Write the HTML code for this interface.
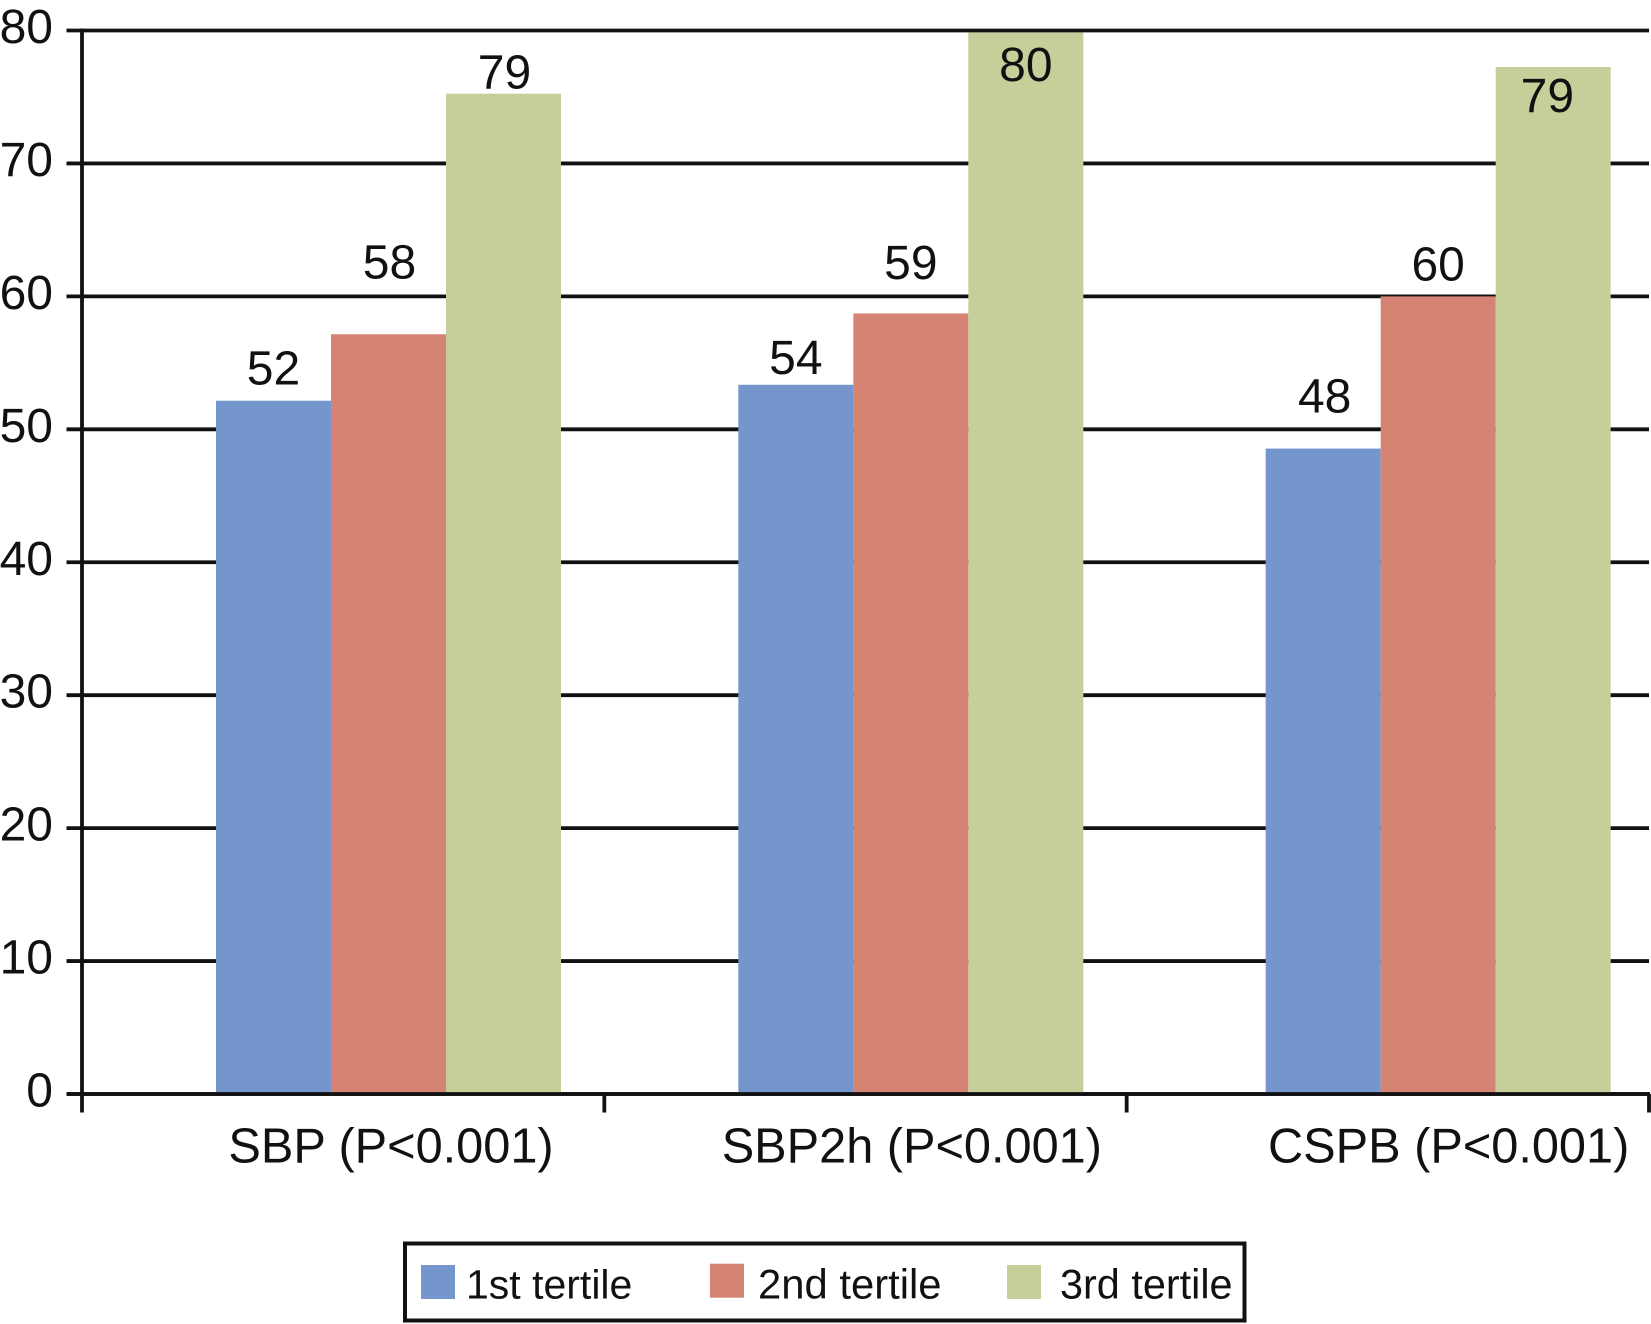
<!DOCTYPE html>
<html lang="en">
<head>
<meta charset="utf-8">
<title>Tertile bar chart</title>
<style>
  html, body { margin: 0; padding: 0; background: #fff; }
  body { width: 1651px; height: 1324px; overflow: hidden; }
  svg { display: block; font-family: "Liberation Sans", Arial, sans-serif; }
  text { fill: #111; }
</style>
</head>
<body>
<svg id="chart" xmlns="http://www.w3.org/2000/svg" width="1651" height="1324" viewBox="0 0 1651 1324"></svg>
<script>
const categories = ['SBP (P<0.001)', 'SBP2h (P<0.001)', 'CSPB (P<0.001)'];
const seriesNames = ['1st tertile', '2nd tertile', '3rd tertile'];
const tertile1Values = [52.15, 53.35, 48.55];
const tertile2Values = [57.15, 58.72, 60];
const tertile3Values = [75.25, 79.85, 77.25];
const tertile1Labels = ['52', '54', '48'];
const tertile2Labels = ['58', '59', '60'];
const tertile3Labels = ['79', '80', '79'];
const yTicks = [0, 10, 20, 30, 40, 50, 60, 70, 80];

const seriesValues = [tertile1Values, tertile2Values, tertile3Values];
const seriesLabels = [tertile1Labels, tertile2Labels, tertile3Labels];
const seriesColors = ['#7496cd', '#d58474', '#c4cf99'];

const NS = 'http://www.w3.org/2000/svg';
const svg = document.getElementById('chart');
const INK = '#111';
const LEFT = 82, RIGHT = 1649, BOTTOM = 1094, TOP = 30.5, Y_MAX = 80;
const BAND = (RIGHT - LEFT) / categories.length;
const BAR_W = 115;

function yScale(v) { return BOTTOM - (v / Y_MAX) * (BOTTOM - TOP); }
function bandStart(i) { return LEFT + i * BAND; }
function groupStart(i) { return bandStart(i) + 134 + (i === 2 ? 5 : 0); }
function barX(i, s) { return groupStart(i) + s * BAR_W; }

function addLine(x1, y1, x2, y2, w) {
  const el = document.createElementNS(NS, 'line');
  el.setAttribute('x1', x1);
  el.setAttribute('y1', y1);
  el.setAttribute('x2', x2);
  el.setAttribute('y2', y2);
  el.setAttribute('stroke', INK);
  el.setAttribute('stroke-width', w);
  svg.appendChild(el);
  return el;
}
function addText(str, x, y, size, anchor) {
  const el = document.createElementNS(NS, 'text');
  el.setAttribute('x', x);
  el.setAttribute('y', y);
  el.setAttribute('font-size', size);
  el.setAttribute('text-anchor', anchor);
  el.textContent = str;
  svg.appendChild(el);
  return el;
}
function addRect(x, y, w, h, fill) {
  const el = document.createElementNS(NS, 'rect');
  el.setAttribute('x', x);
  el.setAttribute('y', y);
  el.setAttribute('width', w);
  el.setAttribute('height', h);
  el.setAttribute('fill', fill);
  svg.appendChild(el);
  return el;
}

/* Gridlines and y tick labels */
yTicks.forEach(function (t) {
  const line = addLine(66.5, yScale(t), RIGHT, yScale(t), 3.8);
  
  
  const lab = addText(String(t), 53, yScale(t) + 12.5, 48, 'end');
  
  
});

/* Bars */
categories.forEach(function (c, i) {
  seriesValues.forEach(function (vals, s) {
    const top = yScale(vals[i]);
    const bar = addRect(barX(i, s), top, BAR_W, BOTTOM - top, seriesColors[s]);
    
    
  });
});

/* Axes */
const yAxis = addLine(LEFT, TOP - 2, LEFT, 1112.5, 3.8);


const xAxis = addLine(66.5, BOTTOM, RIGHT + 1, BOTTOM, 3.8);


for (let i = 1; i <= categories.length; i++) {
  const tick = addLine(bandStart(i), BOTTOM, bandStart(i), 1112.5, 3.8);
  
  
}

/* Printed value labels: baseline is placed relative to each bar's top */
function labelDy(i, s) {
  if (s === 0) { return [-16, -11, -36][i]; }
  if (s === 1) { return [-56, -34.5, -16][i]; }
  return [-5, 48.3, 45][i];
}
function labelDx(i, s) {
  if (i === 0 && s > 0) { return 1; }
  return (i === 2 && s === 2) ? -5.8 : (i === 2 && s === 0) ? 1.5 : 0;
}
categories.forEach(function (c, i) {
  seriesLabels.forEach(function (labs, s) {
    const x = barX(i, s) + BAR_W / 2 + labelDx(i, s);
    const y = yScale(seriesValues[s][i]) + labelDy(i, s);
    const lab = addText(labs[i], x, y, 48, 'middle');
    
    
  });
});

/* Category labels */
categories.forEach(function (c, i) {
  const x = groupStart(i) + 1.5 * BAR_W + (i === 2 ? 10.5 : i === 1 ? 1 : 2.5);
  const lab = addText(c, x, 1162.7, 48.7, 'middle');
  
  
});

/* Legend */
const legendBox = addRect(405, 1243.5, 839.5, 77, '#fff');
legendBox.setAttribute('stroke', INK);
legendBox.setAttribute('stroke-width', 4);



function legendSwatchX(s) { return [421, 710, 1007][s]; }
function legendSwatchY(s) { return [1265, 1263.7, 1265][s]; }
function legendTextX(s) { return [466, 758, 1060][s]; }
function legendTextSize(s) { return [41, 41.8, 41.4][s]; }
seriesNames.forEach(function (name, s) {
  const sw = addRect(legendSwatchX(s), legendSwatchY(s), 34, 34, seriesColors[s]);
  
  
  const lab = addText(name, legendTextX(s), 1298.5, legendTextSize(s), 'start');
  
  
});
</script>
</body>
</html>
